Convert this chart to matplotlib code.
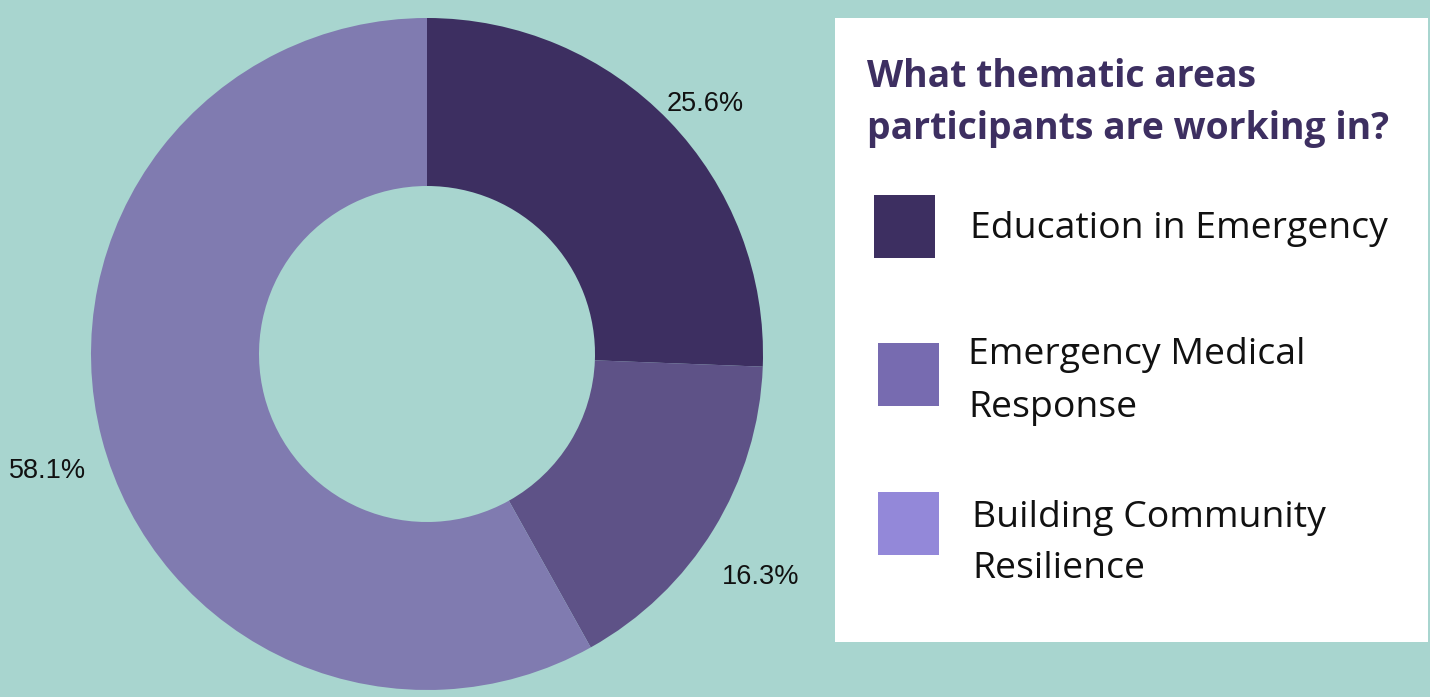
import matplotlib.pyplot as plt
from matplotlib.patches import Rectangle
import numpy as np

# Data
categories = ['Education in Emergency', 'Emergency Medical\nResponse', 'Building Community\nResilience']
shares = [25.6, 16.3, 58.1]
pie_colors = ['#3d2f61', '#5e5287', '#807bb0']
legend_colors = ['#3d2f61', '#776bb0', '#9388d9']
title_lines = ['What thematic areas', 'participants are working in?']

bg = '#a8d5cf'
W, H = 1430, 697

fig = plt.figure(figsize=(W / 100, H / 100), dpi=100, facecolor=bg)

# Donut
cx, cy, r = 427, 354, 336
ax = fig.add_axes([(cx - r) / W, (H - cy - r) / H, 2 * r / W, 2 * r / H])
ax.set_facecolor(bg)
wedges, _ = ax.pie(shares, colors=pie_colors, startangle=90, counterclock=False,
                   radius=1, wedgeprops=dict(width=0.5, linewidth=0))
ax.set_xlim(-1, 1)
ax.set_ylim(-1, 1)
ax.set_aspect('auto')
ax.axis('off')

# percent labels just outside each wedge, nudged down a little
label_dist = [1.15, 1.165, 1.167]
shift = 18 / r
for w, val, d in zip(wedges, shares, label_dist):
    ang = np.deg2rad((w.theta1 + w.theta2) / 2)
    ax.text(d * np.cos(ang), d * np.sin(ang) - shift, f'{val}%', ha='center', va='center',
            fontsize=19.5, family='Liberation Sans', color='#111111', clip_on=False)

# Legend panel (coords in figure pixels, y down)
lx0, lx1, ly0, ly1 = 835, 1428, 18, 642
lax = fig.add_axes([lx0 / W, (H - ly1) / H, (lx1 - lx0) / W, (ly1 - ly0) / H])
lax.set_xlim(lx0, lx1)
lax.set_ylim(ly1, ly0)
lax.set_facecolor('white')
lax.set_xticks([])
lax.set_yticks([])
for s in lax.spines.values():
    s.set_visible(False)

lax.text(867, 87, title_lines[0], fontsize=26.9, fontweight='bold', family='Open Sans',
         color='#3d2f61', va='baseline', ha='left')
lax.text(867, 139, title_lines[1], fontsize=26.9, fontweight='bold', family='Open Sans',
         color='#3d2f61', va='baseline', ha='left')

squares = [(874, 195), (878, 343), (878, 492)]
text_pos = [(970, [238]), (968, [364, 417]), (972, [527, 578])]
for cat, col, (sx, sy), (tx, tys) in zip(categories, legend_colors, squares, text_pos):
    lax.add_patch(Rectangle((sx, sy), 61, 63, facecolor=col, edgecolor='none'))
    for line, ty in zip(cat.split('\n'), tys):
        lax.text(tx, ty, line, fontsize=26.9, family='Open Sans', color='#111111',
                 va='baseline', ha='left')

fig.savefig('out.png', dpi=100, facecolor=bg)
